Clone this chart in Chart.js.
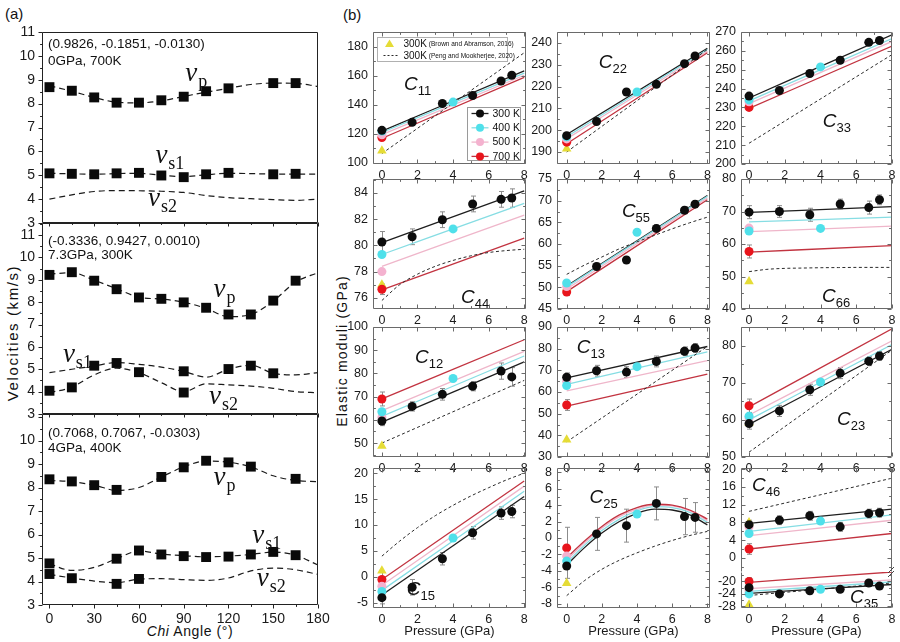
<!DOCTYPE html>
<html>
<head>
<meta charset="utf-8">
<title>Velocities and elastic moduli</title>
<script src="https://cdn.jsdelivr.net/npm/chart.js@4.4.1/dist/chart.umd.min.js"></script>
<style>
  html, body { margin: 0; padding: 0; background: #fff; }
  #fig { position: relative; width: 900px; height: 642px; overflow: hidden; font-family: "Liberation Sans", Arial, sans-serif; color: #111; }
  #fig canvas { position: absolute; }
  .t { position: absolute; white-space: nowrap; line-height: 1; }
  .rot { transform: translate(-50%, -50%) rotate(-90deg); }
</style>
</head>
<body>
<div id="fig">
  <div class="t" style="left:5px; top:6px; font-size:15px">(a)</div>
  <div class="t" style="left:343px; top:7px; font-size:15px">(b)</div>
  <div class="t rot" style="left:12px; top:333px; font-size:15px; letter-spacing:1.6px">Velocities (km/s)</div>
  <div class="t" style="left:190px; top:624px; font-size:14px; transform:translateX(-50%); letter-spacing:0.6px"><i>Chi</i> Angle (°)</div>
  <div class="t rot" style="left:342px; top:351px; font-size:14px; letter-spacing:1.2px">Elastic moduli (GPa)</div>
</div>
<script>
// ---------- (a) velocities vs Chi angle ----------
const CHI_CURVE = [0, 15, 30, 45, 60, 75, 90, 105, 120, 135, 150, 165, 180];

// 0 GPa, 700 K
const A1_VP_CHI = [0, 15, 30, 45, 60, 75, 90, 105, 120, 150, 165];
const A1_VP = [8.69, 8.54, 8.26, 8.04, 8.04, 8.14, 8.29, 8.52, 8.64, 8.86, 8.86];
const A1_VS1_CHI = [0, 15, 30, 45, 60, 75, 90, 105, 120, 150, 165];
const A1_VS1 = [5.08, 5.06, 5.04, 5.08, 5.1, 4.99, 4.92, 5.04, 5.1, 5.04, 5.06];
const A1_VP_FIT = [8.75, 8.52, 8.26, 8.06, 8.03, 8.12, 8.3, 8.48, 8.64, 8.8, 8.86, 8.85, 8.72];
const A1_VS1_FIT = [5.08, 5.06, 5.04, 5.07, 5.08, 5.0, 4.94, 5.02, 5.08, 5.07, 5.05, 5.05, 5.05];
const A1_VS2_FIT = [4.0, 4.18, 4.32, 4.36, 4.35, 4.33, 4.28, 4.15, 4.06, 4.02, 3.98, 3.95, 4.0];

// 7.3 GPa, 300 K
const A2_VP_CHI = [0, 15, 30, 45, 60, 75, 90, 105, 120, 135, 150, 165];
const A2_VP = [9.22, 9.34, 8.96, 8.58, 8.21, 8.15, 7.99, 7.75, 7.45, 7.45, 8.07, 8.96];
const A2_VS1_CHI = [30, 45, 90, 120, 135, 150];
const A2_VS1 = [5.16, 5.28, 4.91, 5.01, 5.16, 4.82];
const A2_VS2_CHI = [0, 15, 60, 90];
const A2_VS2 = [4.04, 4.19, 4.87, 3.96];
const A2_VP_FIT = [9.25, 9.32, 8.98, 8.6, 8.22, 8.14, 8.0, 7.72, 7.35, 7.45, 8.05, 8.9, 9.32];
const A2_VS1_FIT = [4.85, 5.0, 5.15, 5.3, 5.22, 5.1, 4.9, 4.65, 5.0, 5.18, 4.82, 4.75, 4.85];
const A2_VS2_FIT = [3.95, 4.2, 4.75, 5.05, 4.85, 4.4, 4.0, 4.35, 4.3, 4.25, 4.15, 4.0, 3.95];

// 4 GPa, 400 K
const A3_VP_CHI = [0, 15, 30, 45, 75, 90, 105, 120, 135, 165];
const A3_VP = [8.35, 8.26, 8.1, 7.9, 8.45, 8.86, 9.14, 9.07, 8.89, 8.37];
const A3_VS1_CHI = [0, 45, 60, 75, 90, 105, 120, 135, 150, 165];
const A3_VS1 = [4.77, 4.97, 5.32, 5.15, 5.08, 5.04, 5.06, 5.15, 5.26, 5.12];
const A3_VS2_CHI = [0, 15, 45, 60];
const A3_VS2 = [4.32, 4.14, 3.9, 4.11];
const A3_VP_FIT = [8.3, 8.25, 8.1, 7.88, 8.0, 8.45, 8.88, 9.13, 9.08, 8.88, 8.5, 8.3, 8.25];
const A3_VS1_FIT = [4.75, 4.47, 4.6, 4.97, 5.3, 5.17, 5.1, 5.05, 5.08, 5.15, 5.25, 5.12, 4.7];
const A3_VS2_FIT = [4.3, 4.15, 4.02, 3.95, 4.1, 4.12, 4.08, 4.05, 4.15, 4.45, 4.57, 4.5, 4.3];

const A_NOTES = [['(0.9826, -0.1851, -0.0130)', '0GPa, 700K'],
                 ['(-0.3336, 0.9427, 0.0010)', '7.3GPa, 300K'],
                 ['(0.7068, 0.7067, -0.0303)', '4GPa, 400K']];

// ---------- (b) elastic moduli vs pressure ----------
const P_300 = [0, 1.7, 3.4, 5.1, 6.7, 7.3];
const P_400 = [0, 4];
const P_ZERO = [0];
const P_LINE = [0, 8];
const P_CURVE = [0, 1, 2, 3, 4, 5, 6, 7, 8];
const TEMP_LABELS = ['300 K', '400 K', '500 K', '700 K'];
const REF_LABELS = ['300K', '300K'];
const REF_CITES = ['(Brown and Abramson, 2016)', '(Peng and Mookherjee, 2020)'];

// fits: 300, 400, 500, 700 K
const C11_300 = [122.5, 128, 141, 146.5, 156.5, 160.5];
const C11_ERR = [2, 1.5, 1.5, 1.5, 1.5, 1.8];
const C11_400 = [122, 142];
const C11_500 = [119.5];
const C11_700 = [117.5];
const C11_BA = [108.5];
const C11_FIT = [[122, 163.5], [121, 162], [119.5, 160.5], [117, 159]];
const C11_PM = [106.5, 176];

const C22_300 = [197.5, 204, 217.5, 221, 230.5, 234];
const C22_ERR = [1.5, 1, 1.5, 1, 1, 1];
const C22_400 = [197, 217.5];
const C22_500 = [196];
const C22_700 = [194.5];
const C22_BA = [191.5];
const C22_FIT = [[198, 237.5], [197, 237], [196, 236.2], [193.8, 235.5]];
const C22_PM = [190, 237];

const C33_300 = [236, 239, 248, 255, 264.5, 265.5];
const C33_ERR = [1, 1, 1, 1, 1, 1];
const C33_400 = [234, 251.5];
const C33_500 = [233];
const C33_700 = [230];
const C33_BA = [231.5];
const C33_FIT = [[235, 268.5], [233.5, 266.5], [232, 265], [229.5, 262.5]];
const C33_PM = [211, 258];

const C44_300 = [80.25, 80.65, 81.95, 83.15, 83.5, 83.6];
const C44_ERR = [0.8, 0.6, 0.6, 0.6, 0.6, 0.7];
const C44_400 = [79.3, 81.25];
const C44_500 = [78];
const C44_700 = [76.65];
const C44_BA = [77];
const C44_FIT = [[80.2, 84.15], [79.3, 83.2], [78.4, 82.3], [76.6, 80.55]];
const C44_PM = [75.8, 77.0, 77.8, 78.4, 78.85, 79.2, 79.45, 79.6, 79.7];

const C55_300 = [null, 54.8, 56.3, 63.6, 67.8, 69.2];
const C55_ERR = [0, 0.8, 0.8, 0.8, 0.8, 0.8];
const C55_400 = [51, 62.7];
const C55_500 = [50.2];
const C55_700 = [48.9];
const C55_BA = [49.9];
const C55_FIT = [[50.3, 71.2], [50.1, 71], [49.6, 70.6], [49, 70.2]];
const C55_PM = [53, 55.1, 57, 58.9, 60.5, 62, 63.5, 64.9, 66.2];

const C66_300 = [69.8, 70, 69, 72.3, 71.2, 73.6];
const C66_ERR = [2, 1.8, 2, 1.5, 2, 1.5];
const C66_400 = [64, 64.8];
const C66_500 = [64.9];
const C66_700 = [57.7];
const C66_BA = [48.5];
const C66_FIT = [[69.7, 71.5], [66.8, 68.3], [63.8, 65.5], [57.5, 59.5]];
const C66_PM = [51.5, 52.2, 52.5, 52.6, 52.7, 52.75, 52.8, 52.8, 52.8];

const C12_300 = [59.5, 65.8, 71, 74.5, 81, 78.5];
const C12_ERR = [2, 2, 2.5, 2, 3.5, 4];
const C12_400 = [63.5, 77.8];
const C12_500 = [61];
const C12_700 = [69];
const C12_BA = [48.7];
const C12_FIT = [[59, 85], [61.5, 87.5], [64, 89.5], [69, 94.5]];
const C12_PM = [50, 77];

const C13_300 = [66.8, 69.8, 69.2, 74.1, 78.8, 80.3];
const C13_ERR = [2, 2.5, 2.5, 2.5, 2, 2];
const C13_400 = [63, 71.7];
const C13_500 = [65];
const C13_700 = [54];
const C13_BA = [38];
const C13_FIT = [[66.5, 81], [63.5, 78.5], [60.5, 74.5], [53.5, 68.3]];
const C13_PM = [37, 81];

const C23_300 = [59, 62.4, 68.1, 72.6, 75.8, 77.2];
const C23_ERR = [1.5, 1.5, 1.5, 1.5, 1.2, 1.2];
const C23_400 = [61, 70.2];
const C23_500 = [60.5];
const C23_700 = [63.8];
const C23_BA = [59.2];
const C23_FIT = [[58.8, 79], [60, 80.3], [61.3, 81.3], [63.5, 84.5]];
const C23_PM = [51.3, 78.8];

const C15_300 = [-4, -2, 3.5, 8.5, 12.3, 12.6];
const C15_ERR = [1.2, 1.5, 1.2, 1.2, 1.2, 1.2];
const C15_400 = [-2.8, 7.5];
const C15_500 = [-1.8];
const C15_700 = [-0.5];
const C15_BA = [1.2];
const C15_FIT = [[-3.5, 15.5], [-2.6, 16.5], [-1.6, 17.5], [-0.5, 18.5]];
const C15_PM = [4, 6.9, 9.5, 11.8, 13.8, 15.6, 17.2, 18.7, 20];

const C25_300 = [-3.4, 0.5, 1.5, 4.2, 2.6, 2.5];
const C25_ERR = [1.5, 2, 2, 2, 2.2, 1.8];
const C25_400 = [-2.8, 2.9];
const C25_500 = [-2.2];
const C25_700 = [-1.2];
const C25_BA = [-5.5];
const C25_FIT = [[-3.3, -1.2, 0.6, 2.0, 3.0, 3.5, 3.4, 2.8, 1.6],
                 [-3.0, -0.9, 0.9, 2.3, 3.3, 3.8, 3.7, 3.1, 1.9],
                 [-2.7, -0.6, 1.2, 2.6, 3.5, 4.0, 3.9, 3.3, 2.1],
                 [-2.4, -0.4, 1.4, 2.8, 3.7, 4.1, 4.0, 3.4, 2.3]];
const C25_PM = [-7, -5.2, -3.8, -2.7, -1.8, -1.0, -0.3, 0.3, 0.8];

const C46_300 = [7.5, 8.5, 9.5, 7, 10, 10.2];
const C46_ERR = [1, 1, 1, 1, 1, 1];
const C46_400 = [5.5, 8.3];
const C46_500 = [7];
const C46_700 = [2];
const C46_BA = [8];
const C46_FIT = [[7.8, 11], [6, 9.7], [5, 8.5], [2, 5.5]];
const C46_PM = [10.5, 18];

const C35_300 = [-22, -24, -23, -22.5, -20.5, -21.5];
const C35_ERR = [1, 1, 1, 1, 1, 1];
const C35_400 = [-24, -22.5];
const C35_500 = [-23];
const C35_700 = [-20];
const C35_BA = [-27.5];
const C35_FIT = [[-23.8, -21], [-23.2, -20.2], [-22.3, -19.5], [-20.3, -17]];
const C35_PM = [-24.5, -20.5];

// ---------- drawing ----------
const FONT = '"Liberation Sans", Arial, sans-serif';
const SERIF = '"Liberation Serif", "Times New Roman", serif';
const TEMP_PT = ['#0d0d0d', '#4fe0ea', '#f4b2cf', '#e8141c'];
const TEMP_LINE = ['#1e1e1e', '#86dde3', '#efb6ca', '#c23340'];
const BA_COLOR = '#e5dc36';
const fig = document.getElementById('fig');

function xy(xs, ys) {
  return ys.map((y, i) => ({ x: xs[i], y: y }));
}

function addCanvas(f, pad) {
  const c = document.createElement('canvas');
  const w = f[2] - f[0] + pad.l + pad.r;
  const h = f[3] - f[1] + pad.t + pad.b;
  c.width = w; c.height = h;
  c.style.left = (f[0] - pad.l) + 'px';
  c.style.top = (f[1] - pad.t) + 'px';
  c.style.width = w + 'px'; c.style.height = h + 'px';
  fig.appendChild(c);
  return c;
}

function axis(a, horiz, size) {
  return {
    type: 'linear', min: a.min, max: a.max,
    grid: { display: false, drawTicks: false },
    border: { display: false },
    afterFit: s => { if (horiz) s.height = size; else s.width = size; },
    ticks: {
      stepSize: a.step, includeBounds: false, autoSkip: false, maxRotation: 0, minRotation: 0,
      padding: a.pad == null ? 4 : a.pad,
      color: '#1a1a1a', font: { family: FONT, size: a.size || 12 },
      display: a.labels !== false,
      callback: v => (a.hideAbove != null && v > a.hideAbove) ? '' : `${v}`
    },
    title: a.title
      ? { display: true, text: a.title, color: '#1a1a1a', font: { family: FONT, size: 13 }, padding: { top: 2, bottom: 3 } }
      : { display: false }
  };
}

function decor(cfg) {
  return {
    id: 'decor',
    beforeDatasetsDraw(chart) {
      const { ctx, scales: { x, y } } = chart;
      ctx.save();
      ctx.strokeStyle = '#8c8c8c';
      ctx.lineWidth = 1;
      chart.data.datasets.forEach(ds => {
        if (!ds.errors) return;
        ds.data.forEach((p, i) => {
          const e = ds.errors[i];
          if (!e || p.y == null) return;
          const px = Math.round(x.getPixelForValue(p.x)) + 0.5;
          const lo = y.getPixelForValue(p.y - e), hi = y.getPixelForValue(p.y + e);
          ctx.beginPath();
          ctx.moveTo(px, lo); ctx.lineTo(px, hi);
          ctx.moveTo(px - 2.5, lo); ctx.lineTo(px + 2.5, lo);
          ctx.moveTo(px - 2.5, hi); ctx.lineTo(px + 2.5, hi);
          ctx.stroke();
        });
      });
      ctx.restore();
    },
    afterDatasetsDraw(chart) {
      const { ctx, chartArea: a, scales: { x, y } } = chart;
      (cfg.texts || []).forEach(it => {
        let px = it.px != null ? a.left + it.px : x.getPixelForValue(it.x);
        const py = it.py != null ? a.top + it.py : y.getPixelForValue(it.y);
        ctx.save();
        ctx.fillStyle = '#111';
        ctx.textBaseline = 'alphabetic';
        ctx.textAlign = 'left';
        it.parts.forEach(p => {
          ctx.font = p.font;
          px += p.dx || 0;
          ctx.fillText(p.t, px, py + (p.dy || 0));
          px += ctx.measureText(p.t).width;
        });
        ctx.restore();
      });
    },
    afterDraw(chart) {
      const { ctx, chartArea: a, scales: { x, y } } = chart;
      const L = Math.round(a.left) + 0.5, R = Math.round(a.right) - 0.5;
      const T = Math.round(a.top) + 0.5, B = Math.round(a.bottom) - 0.5;
      ctx.save();
      ctx.strokeStyle = cfg.frameColor;
      ctx.lineWidth = 1;
      ctx.beginPath();
      const fs = cfg.frameSides;
      if (fs.includes('t')) { ctx.moveTo(L, T); ctx.lineTo(R, T); }
      if (fs.includes('b')) { ctx.moveTo(L, B); ctx.lineTo(R, B); }
      if (fs.includes('l')) { ctx.moveTo(L, T); ctx.lineTo(L, B); }
      if (fs.includes('r')) { ctx.moveTo(R, T); ctx.lineTo(R, B); }
      const dir = cfg.tickDir === 'out' ? -1 : 1;
      const len = cfg.tickLen || 4;
      const ts = cfg.tickSides;
      const each = (scale, major, minor, fn) => {
        for (let k = Math.ceil(scale.min / minor - 1e-6); k * minor <= scale.max + 1e-6; k++) {
          const v = k * minor;
          const isMajor = Math.abs(v / major - Math.round(v / major)) < 1e-6;
          fn(Math.round(scale.getPixelForValue(v)) + 0.5, isMajor ? len : len * 0.6);
        }
      };
      each(x, cfg.xMajor, cfg.xMinor, (p, l) => {
        if (ts.includes('b')) { ctx.moveTo(p, B); ctx.lineTo(p, B - dir * l); }
        if (ts.includes('t')) { ctx.moveTo(p, T); ctx.lineTo(p, T + dir * l); }
      });
      each(y, cfg.yMajor, cfg.yMinor, (p, l) => {
        if (ts.includes('l')) { ctx.moveTo(L, p); ctx.lineTo(L + dir * l, p); }
        if (ts.includes('r')) { ctx.moveTo(R, p); ctx.lineTo(R - dir * l, p); }
      });
      ctx.stroke();
      ctx.restore();
      if (cfg.extra) cfg.extra(ctx, a);
    }
  };
}

function buildChart(frame, pad, xa, ya, datasets, cfg) {
  const c = addCanvas(frame, pad);
  return new Chart(c, {
    type: 'line',
    data: { datasets: datasets },
    options: {
      responsive: false, animation: false, devicePixelRatio: 1,
      layout: { padding: { left: 0, top: pad.t, right: pad.r, bottom: 0 } },
      plugins: { legend: { display: false }, tooltip: { enabled: false } },
      elements: { point: { hitRadius: 0, hoverRadius: 0 } },
      scales: { x: axis(xa, true, pad.b), y: axis(ya, false, pad.l) }
    },
    plugins: [decor(cfg)]
  });
}

// ----- panel (a)
function velSets(ptsX, pts, fits) {
  const ds = [];
  pts.forEach((ys, i) => ds.push({
    data: xy(ptsX[i], ys), showLine: false, pointStyle: 'rect', pointRadius: 7,
    pointBackgroundColor: '#0a0a0a', pointBorderColor: '#0a0a0a', pointBorderWidth: 0
  }));
  fits.forEach(ys => ds.push({
    data: xy(CHI_CURVE, ys), borderColor: '#1a1a1a', borderWidth: 1.2, borderDash: [6, 4],
    pointRadius: 0, cubicInterpolationMode: 'monotone'
  }));
  return ds;
}

function vLabel(x, y, sub) {
  return { x: x, y: y, parts: [{ t: 'v', font: 'italic 27px ' + SERIF }, { t: sub, font: '18px ' + SERIF, dy: 6, dx: 1 }] };
}
function notes(i, y1, y2) {
  return [
    { px: 6, py: y1, parts: [{ t: A_NOTES[i][0], font: '13.5px ' + FONT }] },
    { px: 6, py: y2, parts: [{ t: A_NOTES[i][1], font: '13.5px ' + FONT }] }
  ];
}
const velCfg = (texts) => ({ xMajor: 30, xMinor: 15, yMajor: 1, yMinor: 0.5, tickSides: 'bl', tickDir: 'out',
  tickLen: 4, frameSides: 'tblr', frameColor: '#222', texts: texts });
const xVel = (labels) => ({ min: -5, max: 180, step: 30, labels: labels, size: 14, pad: 6 });
const VPAD = { l: 42, t: 24, r: 26, b: 24 };

buildChart([42, 32, 318, 223], VPAD, xVel(false),
  { min: 3, max: 11, step: 1, size: 14, pad: 7 },
  velSets([A1_VP_CHI, A1_VS1_CHI], [A1_VP, A1_VS1], [A1_VP_FIT, A1_VS1_FIT, A1_VS2_FIT]),
  velCfg(notes(0, 15.5, 32.5).concat([vLabel(91, 8.95, 'p'), vLabel(71, 5.52, 's1'), vLabel(66, 3.72, 's2')])));

buildChart([42, 223, 318, 414], VPAD, xVel(false),
  { min: 3, max: 11.54, step: 1, size: 14, pad: 7 },
  velSets([A2_VP_CHI, A2_VS1_CHI, A2_VS2_CHI], [A2_VP, A2_VS1, A2_VS2], [A2_VP_FIT, A2_VS1_FIT, A2_VS2_FIT]),
  velCfg(notes(1, 21.5, 35.5).concat([vLabel(110, 8.24, 'p'), vLabel(9, 5.34, 's1'), vLabel(107, 3.46, 's2')])));

buildChart([42, 414, 318, 605], VPAD, xVel(true),
  { min: 3, max: 11.13, step: 1, size: 14, pad: 7, hideAbove: 10.5 },
  velSets([A3_VP_CHI, A3_VS1_CHI, A3_VS2_CHI], [A3_VP, A3_VS1, A3_VS2], [A3_VP_FIT, A3_VS1_FIT, A3_VS2_FIT]),
  velCfg(notes(2, 22.5, 37.5).concat([vLabel(110, 8.11, 'p'), vLabel(136, 5.64, 's1'), vLabel(139, 3.81, 's2')])));

// ----- panel (b)
function modSets(m) {
  const pts = (xs, ys, i, errs) => ({
    data: xy(xs, ys), showLine: false, pointStyle: 'circle', pointRadius: 4.5,
    pointBackgroundColor: TEMP_PT[i], pointBorderColor: TEMP_PT[i], pointBorderWidth: 0, errors: errs
  });
  const line = (xs, ys, color, dash, w) => ({
    data: xy(xs, ys), borderColor: color, borderWidth: w, borderDash: dash, pointRadius: 0,
    cubicInterpolationMode: 'monotone'
  });
  return [
    pts(P_300, m.k300, 0, m.err),
    pts(P_400, m.k400, 1),
    pts(P_ZERO, m.k500, 2),
    pts(P_ZERO, m.k700, 3, [m.e700 || 1.2]),
    { data: xy(P_ZERO, m.ba), showLine: false, pointStyle: 'triangle', pointRadius: 5.5,
      pointBackgroundColor: BA_COLOR, pointBorderColor: BA_COLOR, pointBorderWidth: 0 },
    line(m.pmX || P_LINE, m.pm, '#2a2a2a', [3, 2.5], 1),
    line(m.fitX || P_LINE, m.fit[3], TEMP_LINE[3], [], 1.3),
    line(m.fitX || P_LINE, m.fit[2], TEMP_LINE[2], [], 1.3),
    line(m.fitX || P_LINE, m.fit[1], TEMP_LINE[1], [], 1.3),
    line(m.fitX || P_LINE, m.fit[0], TEMP_LINE[0], [], 1.3)
  ];
}

function cLabel(x, y, sub) {
  return { x: x, y: y, parts: [{ t: 'C', font: 'italic 19px ' + FONT }, { t: sub, font: '13px ' + FONT, dy: 5 }] };
}

function legendTemps(ctx, a) {
  const bx = Math.round(a.left) + 94.5, by = Math.round(a.top) + 75.5;
  ctx.save();
  ctx.fillStyle = '#fff';
  ctx.fillRect(bx, by, 53, 53);
  ctx.strokeStyle = '#9a9a9a'; ctx.lineWidth = 1;
  ctx.strokeRect(bx, by, 53, 53);
  TEMP_LABELS.forEach((lab, i) => {
    const cy = by + 6 + i * 14.3;
    ctx.strokeStyle = TEMP_LINE[i]; ctx.lineWidth = 1.3;
    ctx.beginPath(); ctx.moveTo(bx + 4, cy); ctx.lineTo(bx + 21, cy); ctx.stroke();
    ctx.fillStyle = TEMP_PT[i];
    ctx.beginPath(); ctx.arc(bx + 12.5, cy, 4, 0, Math.PI * 2); ctx.fill();
    ctx.fillStyle = '#111'; ctx.font = '10.5px ' + FONT; ctx.textBaseline = 'middle';
    ctx.fillText(lab, bx + 25, cy + 0.5);
  });
  ctx.restore();
}

function legendRefs(ctx, a) {
  const bx = Math.round(a.left) + 4.5, by = Math.round(a.top) + 5.5;
  ctx.save();
  ctx.fillStyle = '#fff';
  ctx.fillRect(bx, by, 130, 24);
  ctx.strokeStyle = '#b0b0b0'; ctx.lineWidth = 1;
  ctx.strokeRect(bx, by, 130, 24);
  const rows = [by + 6, by + 18];
  ctx.fillStyle = BA_COLOR;
  ctx.beginPath();
  ctx.moveTo(bx + 12, rows[0] - 4); ctx.lineTo(bx + 16.5, rows[0] + 3.5); ctx.lineTo(bx + 7.5, rows[0] + 3.5);
  ctx.closePath(); ctx.fill();
  ctx.strokeStyle = '#2a2a2a'; ctx.setLineDash([2, 2]);
  ctx.beginPath(); ctx.moveTo(bx + 6, rows[1]); ctx.lineTo(bx + 21, rows[1]); ctx.stroke();
  ctx.setLineDash([]);
  ctx.textBaseline = 'middle'; ctx.fillStyle = '#111';
  rows.forEach((cy, i) => {
    ctx.font = '10px ' + FONT;
    ctx.fillText(REF_LABELS[i], bx + 26, cy + 0.5);
    const w = ctx.measureText(REF_LABELS[i]).width;
    ctx.font = '6.5px ' + FONT;
    ctx.fillText(REF_CITES[i], bx + 28 + w, cy + 1);
  });
  ctx.restore();
}

function breakMarks(ctx, a) {
  ctx.save();
  ctx.strokeStyle = '#444'; ctx.lineWidth = 1;
  const R = Math.round(a.right), T = Math.round(a.top);
  ctx.beginPath();
  ctx.moveTo(R - 4, T + 1); ctx.lineTo(R + 2, T - 5);
  ctx.moveTo(R - 4, T + 5); ctx.lineTo(R + 2, T - 1);
  ctx.stroke();
  ctx.restore();
}

const COLS = [
  { L: 373, R: 526, min: -0.5, max: 8.1 },
  { L: 557, R: 710, min: -0.55, max: 8.15 },
  { L: 741, R: 892, min: -0.45, max: 8.0 }
];
const ROWS = [{ T: 32, B: 164 }, { T: 179, B: 309 }, { T: 327, B: 457 }, { T: 468, B: 608 }];

function modChart(col, top, bot, y, m, texts, opts) {
  opts = opts || {};
  const C = COLS[col];
  const bottomRow = !!opts.title;
  const pad = { l: 36, t: 22, r: 8, b: bottomRow ? 34 : 22 };
  const xa = { min: C.min, max: C.max, step: 2, size: 12.5, pad: 4, labels: opts.xLabels !== false, title: opts.title };
  const ya = { min: y.min, max: y.max, step: y.step, size: 12.5, pad: 5 };
  return buildChart([C.L, top, C.R, bot], pad, xa, ya, modSets(m), {
    xMajor: 2, xMinor: 1, yMajor: y.step, yMinor: y.step / 2, tickSides: opts.tickSides || 'tblr',
    tickDir: 'in', tickLen: 4, frameSides: opts.frameSides || 'tblr', frameColor: '#6a6a6a',
    texts: texts, extra: opts.extra
  });
}

const PT = 'Pressure (GPa)';
modChart(0, ROWS[0].T, ROWS[0].B, { min: 99.3, max: 190.3, step: 20 },
  { k300: C11_300, err: C11_ERR, k400: C11_400, k500: C11_500, k700: C11_700, ba: C11_BA, fit: C11_FIT, pm: C11_PM },
  [cLabel(1.24, 150.3, '11')], { extra: (ctx, a) => { legendRefs(ctx, a); legendTemps(ctx, a); } });
modChart(1, ROWS[0].T, ROWS[0].B, { min: 184.5, max: 245, step: 10 },
  { k300: C22_300, err: C22_ERR, k400: C22_400, k500: C22_500, k700: C22_700, ba: C22_BA, fit: C22_FIT, pm: C22_PM },
  [cLabel(1.83, 228.5, '22')]);
modChart(2, ROWS[0].T, ROWS[0].B, { min: 200, max: 270, step: 10 },
  { k300: C33_300, err: C33_ERR, k400: C33_400, k500: C33_500, k700: C33_700, ba: C33_BA, fit: C33_FIT, pm: C33_PM },
  [cLabel(4.13, 219.6, '33')]);

modChart(0, ROWS[1].T, ROWS[1].B, { min: 75.15, max: 85.05, step: 2 },
  { k300: C44_300, err: C44_ERR, k400: C44_400, k500: C44_500, k700: C44_700, ba: C44_BA, fit: C44_FIT, pm: C44_PM, pmX: P_CURVE, e700: 0.4 },
  [cLabel(4.45, 75.6, '44')]);
modChart(1, ROWS[1].T, ROWS[1].B, { min: 45, max: 75, step: 5 },
  { k300: C55_300, err: C55_ERR, k400: C55_400, k500: C55_500, k700: C55_700, ba: C55_BA, fit: C55_FIT, pm: C55_PM, pmX: P_CURVE, e700: 0.8 },
  [cLabel(3.14, 66.3, '55')]);
modChart(2, ROWS[1].T, ROWS[1].B, { min: 40, max: 80, step: 10 },
  { k300: C66_300, err: C66_ERR, k400: C66_400, k500: C66_500, k700: C66_700, ba: C66_BA, fit: C66_FIT, pm: C66_PM, pmX: P_CURVE, e700: 2 },
  [cLabel(4.08, 42.2, '66')]);

modChart(0, ROWS[2].T, ROWS[2].B, { min: 44, max: 100, step: 10 },
  { k300: C12_300, err: C12_ERR, k400: C12_400, k500: C12_500, k700: C12_700, ba: C12_BA, fit: C12_FIT, pm: C12_PM, e700: 3 },
  [cLabel(1.86, 84.5, '12')]);
modChart(1, ROWS[2].T, ROWS[2].B, { min: 30, max: 90, step: 10 },
  { k300: C13_300, err: C13_ERR, k400: C13_400, k500: C13_500, k700: C13_700, ba: C13_BA, fit: C13_FIT, pm: C13_PM, e700: 2.5 },
  [cLabel(0.57, 78, '13')]);
modChart(2, ROWS[2].T, ROWS[2].B, { min: 50, max: 85, step: 10 },
  { k300: C23_300, err: C23_ERR, k400: C23_400, k500: C23_500, k700: C23_700, ba: C23_BA, fit: C23_FIT, pm: C23_PM, e700: 1.8 },
  [cLabel(4.92, 58.5, '23')]);

modChart(0, ROWS[3].T, ROWS[3].B, { min: -6, max: 21, step: 5 },
  { k300: C15_300, err: C15_ERR, k400: C15_400, k500: C15_500, k700: C15_700, ba: C15_BA, fit: C15_FIT, pm: C15_PM, pmX: P_CURVE, e700: 1.5 },
  [cLabel(1.4, -3.5, '15')], { title: PT });
modChart(1, ROWS[3].T, ROWS[3].B, { min: -8.5, max: 8.5, step: 2 },
  { k300: C25_300, err: C25_ERR, k400: C25_400, k500: C25_500, k700: C25_700, ba: C25_BA, fit: C25_FIT, fitX: P_CURVE, pm: C25_PM, pmX: P_CURVE, e700: 2.5 },
  [cLabel(1.3, 4.25, '25')], { title: PT });
modChart(2, ROWS[3].T, 572, { min: -3.2, max: 20.3, step: 4 },
  { k300: C46_300, err: C46_ERR, k400: C46_400, k500: C46_500, k700: C46_700, ba: C46_BA, fit: C46_FIT, pm: C46_PM },
  [cLabel(0.17, 15, '46')], { xLabels: false, tickSides: 'tlr', frameSides: 'tlr' });
modChart(2, 572, ROWS[3].B, { min: -28.5, max: -17, step: 4 },
  { k300: C35_300, err: C35_ERR, k400: C35_400, k500: C35_500, k700: C35_700, ba: C35_BA, fit: C35_FIT, pm: C35_PM },
  [cLabel(5.65, -27, '35')], { title: PT, tickSides: 'blr', frameSides: 'blr', extra: breakMarks });
</script>
</body>
</html>
